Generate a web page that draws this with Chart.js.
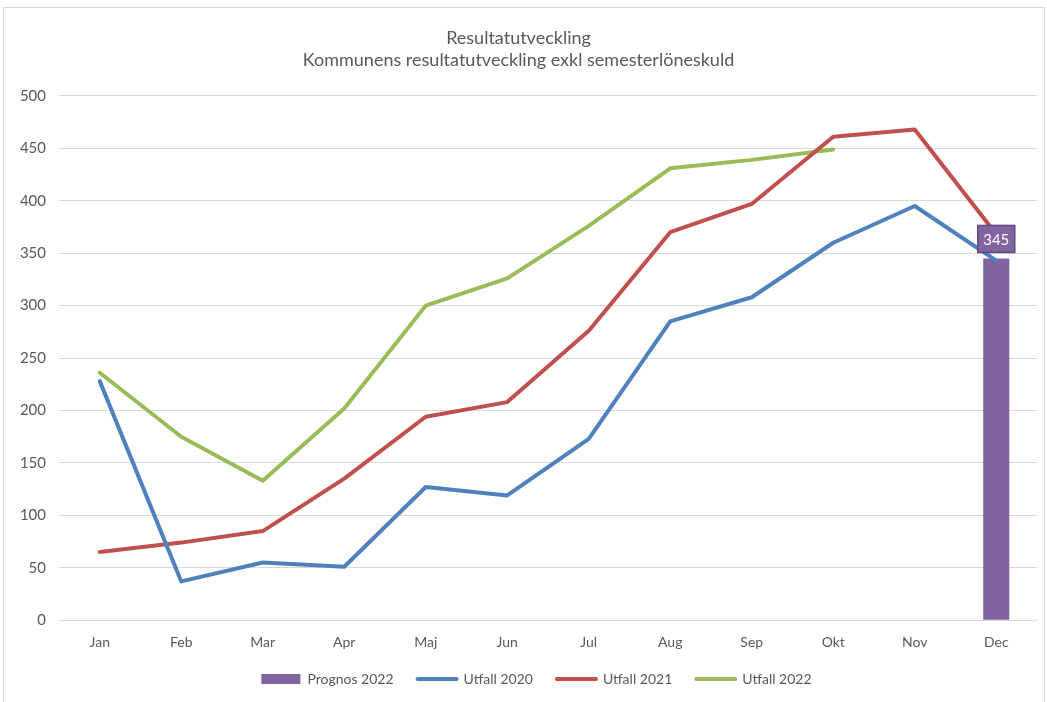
<!DOCTYPE html>
<html>
<head>
<meta charset="utf-8">
<script src="https://cdn.jsdelivr.net/npm/chart.js@4/dist/chart.umd.min.js"></script>
<style>
  html, body { margin: 0; padding: 0; background: #fff; }
  #frame { position: absolute; left: 3px; top: 7px; width: 1040px; height: 700px; border: 1px solid #d9d9d9; }
  #wrap { position: absolute; left: 0; top: 0; width: 1047px; height: 702px; }
</style>
</head>
<body>
<div id="frame"></div>
<div id="wrap"><canvas id="chart"></canvas></div>
<script>
// Months on the category axis
const months = ['Jan', 'Feb', 'Mar', 'Apr', 'Maj', 'Jun', 'Jul', 'Aug', 'Sep', 'Okt', 'Nov', 'Dec'];

// Series values
const prognos2022 = [null, null, null, null, null, null, null, null, null, null, null, 345];
const utfall2020 = [228, 37, 55, 51, 127, 119, 173, 285, 308, 360, 395, 343];
const utfall2021 = [65, 74, 85, 135, 194, 208, 276, 370, 397, 461, 468, 368];
const utfall2022 = [236, 175, 133, 202, 300, 326, 376, 431, 439, 449, null, null];

const yTicks = [0, 50, 100, 150, 200, 250, 300, 350, 400, 450, 500];

const TEXT = '#595959';
const FONT = 'Lato, "Open Sans", sans-serif';

// Draws the boxed value label above the forecast bar
const barLabel = {
    id: 'barLabel',
    afterDatasetsDraw(chart) {
        const meta = chart.getDatasetMeta(0);
        const ctx = chart.ctx;
        meta.data.forEach((bar, i) => {
            const v = prognos2022[i];
            if (v == null) return;
            const w = 37, h = 27;
            const x = bar.x - w / 2;
            const y = bar.y - 6 - h;
            ctx.save();
            ctx.fillStyle = '#8064A2';
            ctx.strokeStyle = '#5f4a7a';
            ctx.lineWidth = 1.5;
            ctx.fillRect(x, y, w, h);
            ctx.strokeRect(x, y, w, h);
            ctx.fillStyle = '#fff';
            ctx.font = '15px ' + FONT;
            ctx.textAlign = 'center';
            ctx.textBaseline = 'middle';
            ctx.fillText(String(v), bar.x, y + h / 2 + 1);
            ctx.restore();
        });
    }
};

// Legend in the reference sits a bit right of the canvas centre
const legendShift = {
    id: 'legendShift',
    afterLayout(chart) {
        const lg = chart.legend;
        if (!lg) return;
        lg.left += 18;
        lg.right += 18;
        lg.top -= 3;
        lg.bottom -= 3;
    }
};

function lineSet(label, data, color) {
    return {
        type: 'line',
        label,
        data,
        borderColor: color,
        backgroundColor: color,
        borderWidth: 4,
        borderCapStyle: 'round',
        borderJoinStyle: 'round',
        pointRadius: 0,
        tension: 0,
        spanGaps: false,
        order: 1,
    };
}

new Chart(document.getElementById('chart'), {
    type: 'bar',
    data: {
        labels: months,
        datasets: [
            {
                type: 'bar',
                label: 'Prognos 2022',
                data: prognos2022,
                backgroundColor: '#8064A2',
                borderWidth: 0,
                barPercentage: 0.32,
                categoryPercentage: 1,
                order: 5,
            },
            lineSet('Utfall 2020', utfall2020, '#4F81BD'),
            lineSet('Utfall 2021', utfall2021, '#C0504D'),
            lineSet('Utfall 2022', utfall2022, '#9BBB59'),
        ],
    },
    options: {
        responsive: true,
        maintainAspectRatio: false,
        animation: false,
        layout: { padding: { left: 0, right: 10, top: 0, bottom: 3 } },
        plugins: {
            title: {
                display: true,
                text: ['Resultatutveckling', 'Kommunens resultatutveckling exkl semesterlöneskuld'],
                color: TEXT,
                font: { family: FONT, size: 18, weight: 'normal', lineHeight: 1.22 },
                padding: { top: 27, bottom: 25 },
            },
            legend: {
                position: 'bottom',
                labels: {
                    color: TEXT,
                    font: { family: FONT, size: 14 },
                    usePointStyle: true,
                    boxHeight: 10,
                    pointStyleWidth: 39,
                    padding: 24,
                    generateLabels(chart) {
                        const items = Chart.defaults.plugins.legend.labels.generateLabels(chart);
                        items.sort((a, b) => a.datasetIndex - b.datasetIndex);
                        items.forEach(it => {
                            if (it.datasetIndex === 0) {
                                it.pointStyle = 'rect';
                                it.lineWidth = 0;
                            } else {
                                it.pointStyle = 'line';
                                it.lineWidth = 4;
                                it.lineCap = 'round';
                            }
                        });
                        return items;
                    },
                },
            },
            tooltip: { enabled: false },
        },
        scales: {
            x: {
                offset: true,
                grid: { display: false, drawTicks: false },
                border: { color: '#d9d9d9', width: 1 },
                ticks: { color: TEXT, font: { family: FONT, size: 14 }, padding: 14 },
                afterFit(scale) { scale.height -= 14; },
            },
            y: {
                min: 0,
                max: 500,
                afterBuildTicks(scale) { scale.ticks = yTicks.map(v => ({ value: v })); },
                afterFit(scale) { scale.width = 59; },
                grid: { color: '#d9d9d9', drawTicks: false },
                border: { display: false },
                ticks: { color: TEXT, font: { family: FONT, size: 15 }, padding: 13 },
            },
        },
    },
    plugins: [barLabel, legendShift],
});
</script>
</body>
</html>
